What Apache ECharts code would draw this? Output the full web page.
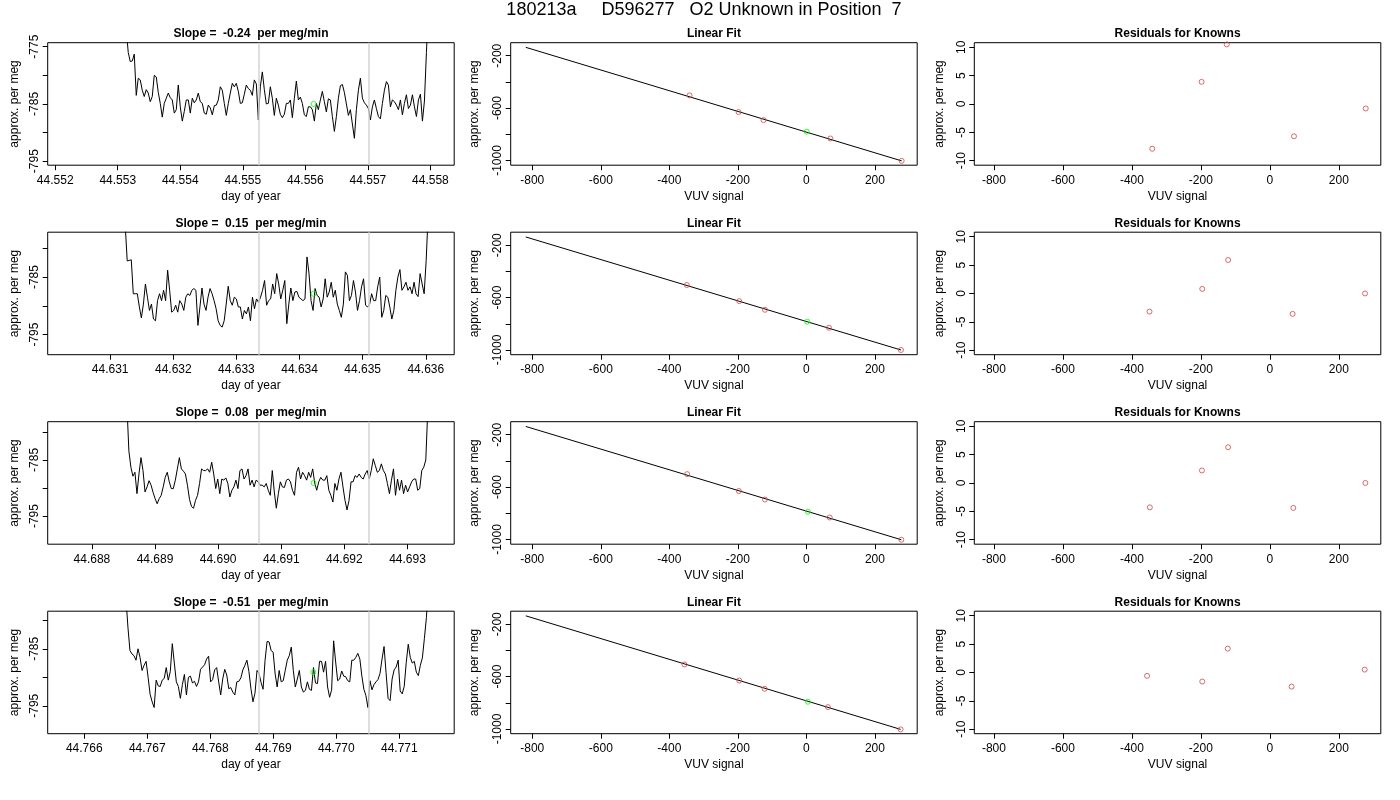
<!DOCTYPE html>
<html>
<head>
<meta charset="utf-8">
<title>O2 Unknown in Position 7</title>
<script src="https://cdn.jsdelivr.net/npm/echarts@6.0.0/dist/echarts.min.js"></script>
<style>
  html, body { margin: 0; padding: 0; background: #fff; }
  #main { width: 1400px; height: 800px; }
</style>
</head>
<body>
<div id="main"></div>
<script>
var mainTitle = '180213a     D596277   O2 Unknown in Position  7';
var slopes = ['-0.24', '0.15', '0.08', '-0.51'];

// left column: per meg trace vs day of year (one sample every dayStep)
var traceStart = [44.553136, 44.631238, 44.688554, 44.766661];
var dayStep = 0.000032;
var trace1 = [
  -772, -776, -777.6, -777.5, -776.3, -783.5, -780.5, -780.8, -782.6, -783.7,
  -782.5, -783.1, -784.6, -783.7, -780, -780.3, -783, -784.9, -787.3, -784.9,
  -784, -783.1, -783.9, -784.3, -786.6, -786, -781.7, -785.5, -788, -786.3,
  -784.3, -784.3, -786.6, -784, -784.8, -784.3, -783.1, -784.6, -784.9, -786.6,
  -786.8, -785.2, -785.7, -786.9, -785.3, -785.2, -784.3, -782, -782.6, -784.9,
  -787, -784.9, -783.1, -781.4, -782, -781.4, -782.8, -784.9, -784.8, -783.3,
  -781.7, -782.3, -782.6, -783.5, -780.8, -781.5, -787.8, -782, -779.4, -782.5,
  -785, -784.9, -782, -784, -787, -784, -785.2, -786.8, -787.4, -786.8,
  -784.9, -784.9, -784.3, -787.4, -784, -781, -784.3, -783.8, -784.9, -786.9,
  -787.2, -785.5, -785.5, -786, -788, -784.9, -786, -784.3, -782.8, -784.6,
  -786.4, -784.1, -784.3, -787.2, -789.8, -787.2, -784, -781.8, -781.6, -783,
  -785, -787, -786, -788.5, -791, -786, -782.6, -780.5, -784, -784.8,
  -785.2, -785.8, -787.8, -785.5, -784.3, -785.8, -787.2, -787.6, -784.9, -782.6,
  -781.1, -781.7, -785.5, -784.3, -784.6, -785.2, -786, -784.3, -786.9, -784.9,
  -783.4, -785.8, -785.2, -783.4, -785.5, -787.2, -784.3, -783.3, -788, -784.5,
  -776, -768
];
var trace2 = [
  -776, -782.2, -782.1, -782, -787.9, -787.9, -787.9, -790.2, -792.1, -789.7,
  -786.2, -788.5, -790.8, -789.7, -792.3, -792.6, -789.1, -787.9, -789.1, -787.3,
  -789.1, -783.8, -787.3, -791.1, -790.8, -789.9, -791.1, -789.1, -789.7, -790.8,
  -788.5, -787.9, -788.2, -787.3, -787, -787.3, -793.4, -790.2, -786.9, -789.7,
  -790.8, -788.5, -787, -787.9, -789.1, -790.5, -792.6, -793.4, -793.7, -792.6,
  -789.7, -786.6, -789.1, -789.9, -788.5, -788.8, -790.2, -790.2, -792.3, -790.8,
  -791.4, -790.2, -792.6, -788.5, -790.5, -788.8, -789.4, -788.5, -787.3, -785.6,
  -789.9, -789.1, -788.8, -786.2, -787.9, -784.4, -786.2, -788.8, -787.3, -785.6,
  -793.1, -789.7, -786.9, -789.1, -787.6, -787.5, -788.5, -788.8, -789.1, -788.8,
  -781.5, -784.4, -789.1, -790.8, -787, -788.2, -788.5, -790.2, -788.8, -785.3,
  -788.5, -787.6, -785.9, -788.5, -787.3, -789.7, -790.8, -792, -789.7, -784.1,
  -784.7, -789.1, -788.2, -785.6, -787.6, -790.8, -789.1, -786.7, -785.3, -789.9,
  -790.2, -789.7, -787.9, -789.1, -789.1, -786.7, -785, -792, -790.8, -788.2,
  -788.5, -790.2, -792.3, -790.8, -787.3, -785, -783.7, -787.3, -786.7, -785.9,
  -787.3, -786.7, -787.9, -785.9, -787.9, -788.4, -784.4, -786.2, -787.9, -782.1,
  -774
];
var trace3 = [
  -775, -783.4, -786.3, -787.9, -787.2, -791, -787.5, -784.6, -786.9, -790.7,
  -789.8, -788.7, -789.5, -790.8, -791.9, -792.8, -791.9, -791.3, -789.8, -788.1,
  -787.2, -788.9, -790.1, -790.1, -788.6, -786.6, -784.6, -786.6, -787, -787.5,
  -789.5, -792, -793.3, -793.6, -792.2, -791.3, -789.2, -786.6, -786.9, -786.9,
  -786.6, -787.2, -785.4, -787.5, -790.1, -788.4, -791, -788.4, -788.6, -788.2,
  -789.2, -791.6, -790.4, -789.8, -788.6, -790.1, -786.9, -786.6, -788.4, -787.8,
  -786.6, -789.5, -788.6, -789.8, -788.6, -788.9, -789.5, -789.5, -789.8, -789.2,
  -790.4, -791.3, -786.9, -790.7, -793.6, -791, -788.9, -789.8, -789.9, -788.6,
  -788.4, -788.9, -790.4, -791.3, -787.2, -786.3, -788.4, -787.2, -787.8, -788.6,
  -787.2, -788.1, -786.6, -789.1, -790.4, -788.9, -788.1, -788.6, -788.6, -787.8,
  -790.4, -791.3, -792.5, -789.2, -790.4, -788.4, -787.2, -789.8, -792.2, -793.9,
  -792.2, -788.9, -788.9, -787.8, -788.1, -787.5, -788.1, -788.4, -787.5, -786.9,
  -788.4, -786.9, -784.8, -786, -787.2, -786.9, -785.7, -786.9, -787.5, -789.2,
  -791, -788.6, -786.6, -791.3, -788.4, -790.4, -788.6, -791, -789.5, -790.7,
  -789.8, -788.9, -788.4, -788.4, -790.4, -790.1, -786.9, -786.3, -785, -776
];
var trace4 = [
  -776, -781.2, -785.3, -785.9, -786.2, -787, -785, -786.5, -788.8, -787.9,
  -787.2, -790, -793, -794.3, -795.3, -790.5, -791.5, -791.6, -790.5, -790.2,
  -788.3, -790.5, -789, -784.1, -787.5, -790.8, -791.6, -793.7, -791.3, -789.5,
  -793.1, -790, -789.8, -791, -790.7, -791.6, -790.8, -788.6, -788.2, -787.8,
  -786.8, -786.3, -790.8, -790.4, -788.7, -788.3, -790.8, -793.1, -790.3, -788.6,
  -789.6, -792, -791.8, -792.6, -793.1, -790.8, -790.7, -790.1, -788.7, -787.9,
  -787, -789, -792, -794.3, -792.8, -788.8, -789.3, -790.9, -792.1, -787,
  -783.7, -783.8, -785.3, -785.6, -789.4, -791.7, -788.8, -790.8, -790.6, -788.8,
  -787, -786.2, -784.7, -788.8, -791.7, -790.3, -788.8, -791.7, -792.6, -792.3,
  -790.8, -792.1, -792.3, -788.3, -791, -791.1, -787.2, -787.2, -789.1, -787.2,
  -791.7, -793.5, -792.2, -783.6, -787.3, -790.6, -790.3, -788.9, -789.8, -789.9,
  -790.6, -790.8, -787, -787, -786.5, -785.8, -786.8, -789.8, -792.1, -793.2,
  -795.3, -790.6, -792.2, -791.3, -790.8, -790.4, -789.3, -786.8, -784.6, -789.2,
  -793.7, -794.1, -790.3, -788.7, -788.2, -787, -792.4, -792.9, -791.6, -787.4,
  -784.2, -786.5, -787.5, -787.2, -789.1, -789.7, -787.9, -786.6, -783.2, -779.5,
  -774
];
var traces = [trace1, trace2, trace3, trace4];

var dayMin = [44.55188, 44.63001, 44.68730, 44.76542];
var dayMax = [44.55838, 44.63645, 44.69374, 44.77187];
var dayTicks = [
  [44.552, 44.553, 44.554, 44.555, 44.556, 44.557, 44.558],
  [44.631, 44.632, 44.633, 44.634, 44.635, 44.636],
  [44.688, 44.689, 44.690, 44.691, 44.692, 44.693],
  [44.766, 44.767, 44.768, 44.769, 44.770, 44.771]
];
var megMin = [-795.7, -798.5, -800, -799.9];
var megMax = [-774.3, -777.2, -778.2, -778.4];
var megTicks = [
  [-795, -790, -785, -780, -775],
  [-795, -790, -785, -780],
  [-795, -790, -785, -780],
  [-795, -790, -785, -780]
];
var megLabels = [[-795, -785, -775], [-795, -785], [-795, -785], [-795, -785]];
var windowDays = [
  [44.555253, 44.557013],
  [44.633350, 44.635094],
  [44.690640, 44.692383],
  [44.768762, 44.770508]
];
var unknownDay = [44.556133, 44.634222, 44.691512, 44.769635];
var unknownMeg = [-785.0, -787.9, -789.1, -789.1];

// middle and right columns: linear fit of the knowns
var vuvTicks = [-800, -600, -400, -200, 0, 200];
var fitTicks = [-1000, -800, -600, -400, -200];
var fitLabels = [-1000, -600, -200];
var residTicks = [-10, -5, 0, 5, 10];
var knownVuv = [
  [-341, -198, -125, 70, 278],
  [-349, -196, -121, 66, 276],
  [-348, -197, -121, 68, 277],
  [-356, -196, -122, 63, 275]
];
var knownMeg = [
  [-503, -630, -692, -832, -1003],
  [-504, -627, -693, -830, -1000],
  [-501, -630, -695, -832, -1002],
  [-507, -630, -693, -833, -1003]
];
var residuals = [
  [-7.9, 3.9, 10.5, -5.7, -0.8],
  [-3.2, 0.8, 5.9, -3.6, 0],
  [-4.3, 2.2, 6.3, -4.4, 0],
  [-0.6, -1.6, 4.2, -2.5, 0.5]
];
var unknownVuv = [1, 2.5, 4.5, 4.5];
var unknownFit = [-780, -784, -788, -792];
var fitLineVuv = [[-819, 278], [-819, 276], [-819, 277], [-819, 275]];
var fitLineMeg = [[-136, -1003], [-137, -1000], [-137, -1002], [-136, -1003]];

var FONT = '"Liberation Sans", Arial, Helvetica, sans-serif';
var RED = '#cc4a48';
var GREEN = '#00ff00';

// panel boxes in px
var colLeft = [47.7, 510.7, 974.3];
var colWidth = 406.5;
var rowTop = [42.7, 232.2, 421.7, 611.2];
var rowHeight = 122.5;

var chart = echarts.init(document.getElementById('main'), null, { renderer: 'canvas' });

function axis(gridIndex, min, max, ticks, labels, name, nameGap, isY, fmt) {
  return {
    type: 'value',
    gridIndex: gridIndex,
    min: min,
    max: max,
    name: name,
    nameLocation: 'middle',
    nameGap: nameGap,
    nameRotate: isY ? 90 : 0,
    nameTextStyle: { fontFamily: FONT, fontSize: 12, color: '#000' },
    axisLine: { show: false, onZero: false },
    axisTick: { show: true, inside: false, length: 5, customValues: ticks,
      lineStyle: { color: '#000', width: 1 } },
    axisLabel: { show: true, customValues: labels, rotate: isY ? 90 : 0,
      margin: isY ? 7 : 9, fontFamily: FONT, fontSize: 12, color: '#000',
      hideOverlap: false, formatter: fmt },
    splitLine: { show: false }
  };
}

function plain(v) { return String(v); }
function day(v) { return v.toFixed(3); }

var grids = [], xAxes = [], yAxes = [], series = [], texts = [];

texts.push({
  type: 'text', x: 704, y: 10.5,
  style: { text: mainTitle, fontFamily: FONT, fontSize: 18, fill: '#000',
    align: 'center', verticalAlign: 'middle' }
});

for (var r = 0; r < 4; r++) {
  var colTitles = ['Slope =  ' + slopes[r] + '  per meg/min', 'Linear Fit', 'Residuals for Knowns'];
  for (var c = 0; c < 3; c++) {
    grids.push({
      left: colLeft[c], top: rowTop[r], width: colWidth, height: rowHeight,
      show: true, borderColor: '#000', borderWidth: 1, backgroundColor: 'transparent'
    });
    texts.push({
      type: 'text', x: colLeft[c] + colWidth / 2, y: rowTop[r] - 8.7,
      style: { text: colTitles[c], fontFamily: FONT, fontSize: 12, fontWeight: 'bold',
        fill: '#000', align: 'center', verticalAlign: 'middle' }
    });
  }

  var g = r * 3;

  // trace panel, gray lines mark the integration window
  xAxes.push(axis(g, dayMin[r], dayMax[r], dayTicks[r], dayTicks[r], 'day of year', 25, false, day));
  yAxes.push(axis(g, megMin[r], megMax[r], megTicks[r], megLabels[r], 'approx. per meg', 27, true, plain));
  var pts = traces[r].map(function (v, i) { return [traceStart[r] + i * dayStep, v]; });
  series.push({
    type: 'line', xAxisIndex: g, yAxisIndex: g, data: pts,
    showSymbol: false, symbol: 'none', clip: true,
    lineStyle: { color: '#000', width: 1 },
    markLine: {
      silent: true, symbol: 'none', precision: 6, label: { show: false },
      lineStyle: { color: '#d3d3d3', width: 1.5, type: 'solid' },
      data: windowDays[r].map(function (d) { return { xAxis: d }; })
    },
    z: 2
  });
  series.push({
    type: 'scatter', xAxisIndex: g, yAxisIndex: g,
    data: [[unknownDay[r], unknownMeg[r]]],
    symbol: 'circle', symbolSize: 5,
    itemStyle: { color: 'transparent', borderColor: GREEN, borderWidth: 1 }, z: 3
  });

  // linear fit panel
  xAxes.push(axis(g + 1, -863, 323.4, vuvTicks, vuvTicks, 'VUV signal', 25, false, plain));
  yAxes.push(axis(g + 1, -1036, -100.6, fitTicks, fitLabels, 'approx. per meg', 30, true, plain));
  series.push({
    type: 'line', xAxisIndex: g + 1, yAxisIndex: g + 1,
    data: [[fitLineVuv[r][0], fitLineMeg[r][0]], [fitLineVuv[r][1], fitLineMeg[r][1]]],
    showSymbol: false, symbol: 'none', lineStyle: { color: '#000', width: 1 }, z: 2
  });
  series.push({
    type: 'scatter', xAxisIndex: g + 1, yAxisIndex: g + 1,
    data: knownVuv[r].map(function (x, i) { return [x, knownMeg[r][i]]; }),
    symbol: 'circle', symbolSize: 5,
    itemStyle: { color: 'transparent', borderColor: RED, borderWidth: 1 }, z: 3
  });
  series.push({
    type: 'scatter', xAxisIndex: g + 1, yAxisIndex: g + 1,
    data: [[unknownVuv[r], unknownFit[r]]],
    symbol: 'circle', symbolSize: 5,
    itemStyle: { color: 'transparent', borderColor: GREEN, borderWidth: 1 }, z: 3
  });

  // residuals panel
  xAxes.push(axis(g + 2, -857, 321.7, vuvTicks, vuvTicks, 'VUV signal', 25, false, plain));
  yAxes.push(axis(g + 2, -10.8, 10.8, residTicks, residTicks, 'approx. per meg', 28.5, true, plain));
  series.push({
    type: 'scatter', xAxisIndex: g + 2, yAxisIndex: g + 2,
    data: knownVuv[r].map(function (x, i) { return [x, residuals[r][i]]; }),
    symbol: 'circle', symbolSize: 5,
    itemStyle: { color: 'transparent', borderColor: RED, borderWidth: 1 }, z: 3
  });
}

chart.setOption({
  animation: false,
  backgroundColor: '#fff',
  textStyle: { fontFamily: FONT },
  grid: grids,
  xAxis: xAxes,
  yAxis: yAxes,
  series: series,
  graphic: texts
});
</script>
</body>
</html>
